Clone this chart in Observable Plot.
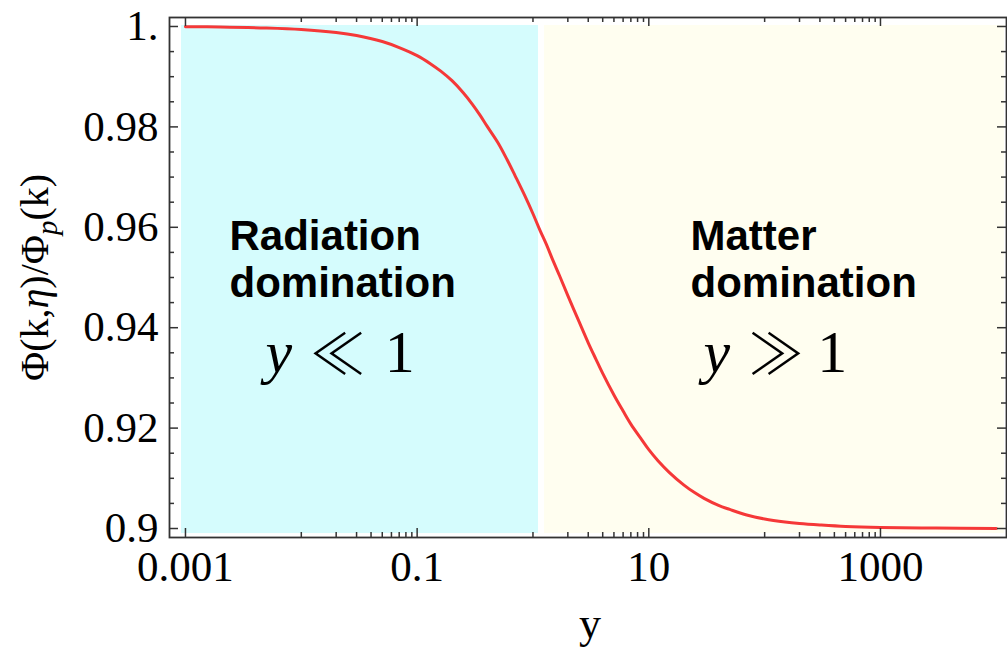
<!DOCTYPE html>
<html><head><meta charset="utf-8">
<script src="https://cdn.jsdelivr.net/npm/d3@7"></script>
<script src="https://cdn.jsdelivr.net/npm/@observablehq/plot@0.6"></script>
<style>body{margin:0;background:#fff} svg{display:block}</style>
</head><body><div id="chart"></div>
<script>
// curve: y (horizontal variable) and Phi(k,eta)/Phi_p(k)
const yValues = [0.001, 0.002, 0.005, 0.01, 0.02, 0.03, 0.05, 0.07, 0.1, 0.13, 0.16, 0.2, 0.25, 0.3, 0.35, 0.4, 0.5, 0.6, 0.7, 0.85, 1, 1.15, 1.3, 1.5, 1.7, 2, 2.5, 3, 3.5, 4, 5, 6, 7, 8.5, 10, 12, 15, 20, 25, 30, 40, 50, 70, 100, 150, 200, 300, 500, 1000, 3000, 10000];
const ratio = [0.99994, 0.9999, 0.9997, 0.9994, 0.9988, 0.9982, 0.9970, 0.9958, 0.9942, 0.9926, 0.9911, 0.9892, 0.9868, 0.9845, 0.9823, 0.9802, 0.9768, 0.9734, 0.9703, 0.9663, 0.9627, 0.9594, 0.9567, 0.9532, 0.9503, 0.9464, 0.9412, 0.9370, 0.9337, 0.9309, 0.9266, 0.9234, 0.9208, 0.9180, 0.9157, 0.9135, 0.9112, 0.9087, 0.9071, 0.9060, 0.9046, 0.9038, 0.9027, 0.9019, 0.9013, 0.9010, 0.9007, 0.9004, 0.9002, 0.9001, 0.9000];

const xMajorTicks = [0.001, 0.1, 10, 1000];
const xMajorLabels = ["0.001", "0.1", "10", "1000"];
const xMinorTicks = [0.01, 0.02, 0.03, 0.04, 0.05, 0.06, 0.07, 0.08, 0.09, 1, 2, 3, 4, 5, 6, 7, 8, 9, 100, 200, 300, 400, 500, 600, 700, 800, 900];
const yMajorTicks = [0.9, 0.92, 0.94, 0.96, 0.98, 1.0];
const yMajorLabels = ["0.9", "0.92", "0.94", "0.96", "0.98", "1."];
const yMinorTicks = [0.905, 0.91, 0.915, 0.925, 0.93, 0.935, 0.945, 0.95, 0.955, 0.965, 0.97, 0.975, 0.985, 0.99, 0.995];

const regionNames = ["Radiation domination", "Matter domination"];
const regionStart = [0.000924, 1.257];
const regionEnd = [1.116, 11750];
const regionColors = ["#d5fcfd", "#fffef0"];

const xDomain = [0.000728, 12246];
const yDomain = [0.89821, 1.00179];

const curve = yValues.map((v, i) => ({y: v, r: ratio[i]}));
const regions = regionNames.map((n, i) => ({name: n, x1: regionStart[i], x2: regionEnd[i], fill: regionColors[i]}));
const xLab = new Map(xMajorTicks.map((d, i) => [d, xMajorLabels[i]]));
const yLab = new Map(yMajorTicks.map((d, i) => [d, yMajorLabels[i]]));

const W = 1007, H = 648, ML = 169, MR = 1, MT = 17, MB = 111;
const FW = W - ML - MR, FH = H - MT - MB;
const axisColor = "#333";
const relFont = "'Noto Sans CJK JP', 'DejaVu Sans', serif";

const chart = Plot.plot({
  width: W, height: H,
  marginLeft: ML, marginRight: MR, marginTop: MT, marginBottom: MB,
  x: {type: "log", domain: xDomain},
  y: {domain: yDomain},
  style: {fontFamily: "'Liberation Serif', 'Times New Roman', serif", background: "#fff", color: "#000"},
  marks: [
    Plot.rect(regions, {x1: "x1", x2: "x2", y1: 0.899, y2: 1.0002, fill: "fill"}),
    Plot.line(curve, {x: "y", y: "r", stroke: "#f53838", strokeWidth: 3, curve: "catmull-rom"}),
    Plot.frame({stroke: axisColor, strokeWidth: 1.8}),
    // inward ticks on all four sides
    Plot.tickX(xMajorTicks, {x: d => d, insetTop: FH - 9, stroke: axisColor, strokeWidth: 1.5}),
    Plot.tickX(xMinorTicks, {x: d => d, insetTop: FH - 5, stroke: axisColor, strokeWidth: 1.5}),
    Plot.tickX(xMajorTicks, {x: d => d, insetBottom: FH - 9, stroke: axisColor, strokeWidth: 1.5}),
    Plot.tickX(xMinorTicks, {x: d => d, insetBottom: FH - 5, stroke: axisColor, strokeWidth: 1.5}),
    Plot.tickY(yMajorTicks, {y: d => d, insetRight: FW - 9, stroke: axisColor, strokeWidth: 1.5}),
    Plot.tickY(yMinorTicks, {y: d => d, insetRight: FW - 5, stroke: axisColor, strokeWidth: 1.5}),
    Plot.tickY(yMajorTicks, {y: d => d, insetLeft: FW - 9, stroke: axisColor, strokeWidth: 1.5}),
    Plot.tickY(yMinorTicks, {y: d => d, insetLeft: FW - 5, stroke: axisColor, strokeWidth: 1.5}),
    Plot.axisX(xMajorTicks, {tickSize: 0, tickPadding: 13, tickFormat: d => xLab.get(d), fontSize: 43, label: null}),
    Plot.axisY(yMajorTicks, {tickSize: 0, tickPadding: 11, tickFormat: d => yLab.get(d), fontSize: 43, label: null}),
    // axis titles
    Plot.text(["y"], {frameAnchor: "bottom", textAnchor: "middle", dx: 2, dy: 100, lineAnchor: "bottom", fontSize: 44, fill: "#000"}),
    Plot.text(["Φ(k,η)/Φp(k)"], {frameAnchor: "left", textAnchor: "middle", lineAnchor: "middle", dx: -134, rotate: -90, fontSize: 40, fill: "#000"}),
    // annotations
    Plot.text(["Radiation\ndomination"], {x: 0.0024, y: 0.96223, textAnchor: "start", lineAnchor: "top", lineHeight: 1.12,
      fontFamily: "'Liberation Sans', Arial, sans-serif", fontWeight: "bold", fontSize: 42, fill: "#000"}),
    Plot.text(["Matter\ndomination"], {x: 22.9, y: 0.96223, textAnchor: "start", lineAnchor: "top", lineHeight: 1.12,
      fontFamily: "'Liberation Sans', Arial, sans-serif", fontWeight: "bold", fontSize: 42, fill: "#000"}),
    Plot.text(["y"], {x: 0.00491, y: 0.9311, textAnchor: "start", lineAnchor: "bottom", fontStyle: "italic", fontSize: 60, fill: "#000"}),
    Plot.text(["≪"], {x: 0.0118, y: 0.9311, dy: 2, textAnchor: "start", lineAnchor: "bottom", fontSize: 56, fontWeight: 300, fill: "#000", fontFamily: relFont}),
    Plot.text(["1"], {x: 0.0525, y: 0.9311, textAnchor: "start", lineAnchor: "bottom", fontSize: 60, fill: "#000"}),
    Plot.text(["y"], {x: 29.6, y: 0.9311, textAnchor: "start", lineAnchor: "bottom", fontStyle: "italic", fontSize: 60, fill: "#000"}),
    Plot.text(["≫"], {x: 72, y: 0.9311, dy: 2, textAnchor: "start", lineAnchor: "bottom", fontSize: 56, fontWeight: 300, fill: "#000", fontFamily: relFont}),
    Plot.text(["1"], {x: 285, y: 0.9311, textAnchor: "start", lineAnchor: "bottom", fontSize: 60, fill: "#000"})
  ]
});
document.getElementById("chart").appendChild(chart);

// subscript p in the y-axis title
d3.select(chart).selectAll("text").each(function() {
  if (this.textContent === "Φ(k,η)/Φp(k)") {
    const t = d3.select(this);
    t.text(null);
    t.append("tspan").text("Φ(k,");
    t.append("tspan").attr("font-style", "italic").text("η");
    t.append("tspan").text(")/Φ");
    t.append("tspan").attr("font-style", "italic").attr("font-size", "0.72em").attr("dy", "0.3em").text("p");
    t.append("tspan").attr("dy", "-0.22em").text("(k)");
  }
});
</script>
</body></html>
